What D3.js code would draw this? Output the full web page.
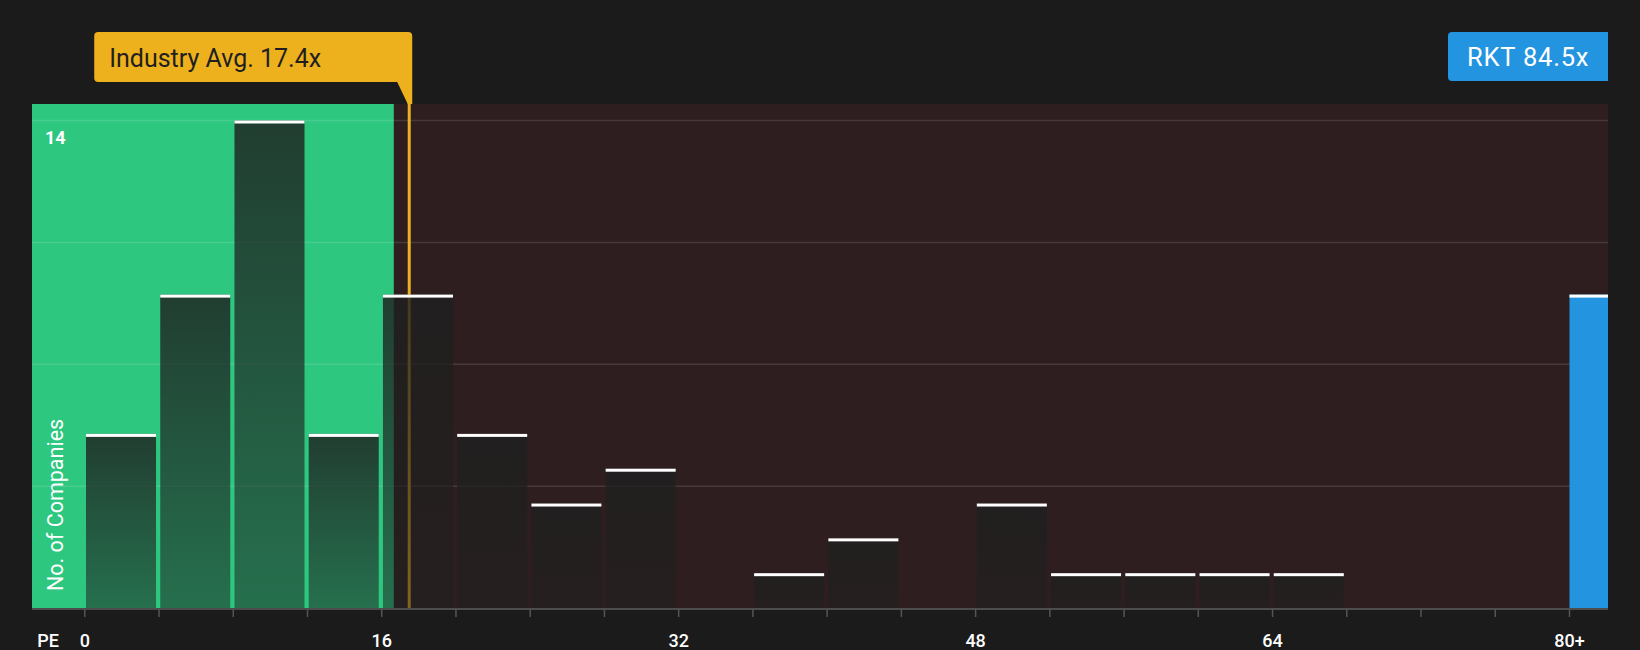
<!DOCTYPE html>
<html>
<head>
<meta charset="utf-8">
<script src="https://cdn.jsdelivr.net/npm/d3@7"></script>
<style>
  html, body { margin: 0; padding: 0; background: #1b1b1b; }
  svg { display: block; }
</style>
</head>
<body>
<svg id="chart" width="1640" height="650"></svg>
<script>
// ---------- data ----------
const binStarts = [0, 4, 8, 12, 16, 20, 24, 28, 32, 36, 40, 44, 48, 52, 56, 60, 64, 68, 72, 76];
const binCounts = [5, 9, 14, 5, 9, 5, 3, 4, 0, 1, 2, 0, 3, 1, 1, 1, 1, 0, 0, 0];
const binWidth = 4;
const overflowStart = 80;
const overflowCount = 9;           // companies in 80+ bin (incl. RKT)
const companyName = "RKT";
const companyPE = 84.5;
const industryAvg = 17.4;
const goodRangeEnd = 16.65;
const xTickValues = [0, 4, 8, 12, 16, 20, 24, 28, 32, 36, 40, 44, 48, 52, 56, 60, 64, 68, 72, 76, 80];
const xLabelValues = [0, 16, 32, 48, 64, 80];
const xLabelTexts = ["0", "16", "32", "48", "64", "80+"];
const gridValues = [3.5, 7, 10.5, 14];
const yLabelValues = [14];
const xAxisTitle = "PE";
const yAxisTitle = "No. of Companies";

// ---------- layout ----------
const W = 1640, H = 650;
const plotLeft = 32, plotRight = 1608, plotTop = 104, baseY = 608;
const font = "Roboto, 'Open Sans', sans-serif";

const svg = d3.select("#chart");
const x = d3.scaleLinear().domain([0, 80]).range([84.8, 1569.5]);
const y = d3.scaleLinear().domain([0, 14]).range([baseY, 120.5]);

const defs = svg.append("defs");
const grad = defs.append("linearGradient").attr("id", "barGrad")
  .attr("x1", 0).attr("y1", 0).attr("x2", 0).attr("y2", 1);
grad.append("stop").attr("offset", "0%").attr("stop-color", "#1e1f1f").attr("stop-opacity", 0.82);
grad.append("stop").attr("offset", "100%").attr("stop-color", "#1e1f1f").attr("stop-opacity", 0.52);

// background
svg.append("rect").attr("width", W).attr("height", H).attr("fill", "#1b1b1b");

// regions
svg.append("rect")
  .attr("x", plotLeft).attr("y", plotTop)
  .attr("width", plotRight - plotLeft).attr("height", baseY - plotTop)
  .attr("fill", "#2e1e1f");
svg.append("rect")
  .attr("x", plotLeft).attr("y", plotTop)
  .attr("width", x(goodRangeEnd) - plotLeft).attr("height", baseY - plotTop)
  .attr("fill", "#2ec780");

// gridlines
svg.append("g").selectAll("line").data(gridValues).join("line")
  .attr("x1", plotLeft).attr("x2", plotRight)
  .attr("y1", d => y(d)).attr("y2", d => y(d))
  .attr("stroke", "#ffffff").attr("stroke-opacity", 0.12).attr("stroke-width", 1.5);

// industry average line (under bars)
const lx = x(industryAvg) + 1.5;
const boxTop = 32, boxBottom = 82;
svg.append("line")
  .attr("x1", lx).attr("x2", lx).attr("y1", boxBottom).attr("y2", baseY)
  .attr("stroke", "#eeb11e").attr("stroke-width", 3);

// bars
const bins = binStarts.map((b, i) => ({ start: b, count: binCounts[i] }));
const barsG = svg.append("g");
barsG.selectAll("rect.bar").data(bins.filter(d => d.count > 0)).join("rect")
  .attr("class", "bar")
  .attr("x", d => x(d.start) + 1.2)
  .attr("width", d => x(d.start + binWidth) - x(d.start) - 4.2)
  .attr("y", d => y(d.count))
  .attr("height", d => baseY - y(d.count))
  .attr("fill", "url(#barGrad)");
barsG.selectAll("rect.top").data(bins.filter(d => d.count > 0)).join("rect")
  .attr("class", "top")
  .attr("x", d => x(d.start) + 1.2)
  .attr("width", d => x(d.start + binWidth) - x(d.start) - 4.2)
  .attr("y", d => y(d.count))
  .attr("height", 3)
  .attr("fill", "#ffffff");

// overflow (company) bar
svg.append("rect")
  .attr("x", x(overflowStart)).attr("y", y(overflowCount))
  .attr("width", plotRight - x(overflowStart)).attr("height", baseY - y(overflowCount))
  .attr("fill", "#2394df");
svg.append("rect")
  .attr("x", x(overflowStart)).attr("y", y(overflowCount))
  .attr("width", plotRight - x(overflowStart)).attr("height", 3)
  .attr("fill", "#ffffff");

// x axis
svg.append("line")
  .attr("x1", plotLeft).attr("x2", plotRight).attr("y1", baseY + 1).attr("y2", baseY + 1)
  .attr("stroke", "#4d4d4d").attr("stroke-width", 2);
svg.append("g").selectAll("line").data(xTickValues).join("line")
  .attr("x1", d => x(d)).attr("x2", d => x(d))
  .attr("y1", baseY + 1).attr("y2", baseY + 9)
  .attr("stroke", "#555555").attr("stroke-width", 1.5);
svg.append("g").selectAll("text").data(xLabelValues).join("text")
  .attr("x", d => x(d)).attr("y", 647)
  .attr("text-anchor", "middle")
  .attr("font-family", font).attr("font-size", 18).attr("font-weight", 500)
  .attr("fill", "#ffffff")
  .text((d, i) => xLabelTexts[i]);
svg.append("text")
  .attr("x", 48).attr("y", 647).attr("text-anchor", "middle")
  .attr("font-family", font).attr("font-size", 18).attr("font-weight", 500)
  .attr("fill", "#ffffff").text(xAxisTitle);

// y labels
svg.append("g").selectAll("text").data(yLabelValues).join("text")
  .attr("x", 45).attr("y", d => y(d) + 23.5)
  .attr("font-family", font).attr("font-size", 18).attr("font-weight", 700)
  .attr("fill", "#ffffff").text(d => d);
svg.append("text")
  .attr("transform", "translate(63,591) rotate(-90)")
  .attr("font-family", font).attr("font-size", 21.5)
  .attr("fill", "#ffffff").text(yAxisTitle);

// industry avg label box with pointer
const boxRight = lx + 3, boxLeft = lx - 315;
svg.append("path")
  .attr("d", `M${boxLeft + 4},${boxTop} H${boxRight - 4} Q${boxRight},${boxTop} ${boxRight},${boxTop + 4}
              V${plotTop} L${lx - 1.5},${plotTop} L${lx - 12},${boxBottom}
              H${boxLeft + 4} Q${boxLeft},${boxBottom} ${boxLeft},${boxBottom - 4}
              V${boxTop + 4} Q${boxLeft},${boxTop} ${boxLeft + 4},${boxTop} Z`)
  .attr("fill", "#eeb11e");
svg.append("text")
  .attr("x", boxLeft + 15).attr("y", 66.5)
  .attr("font-family", font).attr("font-size", 25)
  .attr("fill", "#1f1f1f")
  .text(`Industry Avg. ${industryAvg}x`);

// company label box
const cBoxLeft = 1448;
svg.append("path")
  .attr("d", `M${cBoxLeft + 4},${boxTop} H${plotRight} V${boxBottom - 1} H${cBoxLeft + 4}
              Q${cBoxLeft},${boxBottom - 1} ${cBoxLeft},${boxBottom - 5} V${boxTop + 4}
              Q${cBoxLeft},${boxTop} ${cBoxLeft + 4},${boxTop} Z`)
  .attr("fill", "#2394df");
svg.append("text")
  .attr("x", cBoxLeft + 19).attr("y", 66)
  .attr("font-family", font).attr("font-size", 25.5).attr("letter-spacing", 0.8)
  .attr("fill", "#ffffff")
  .text(`${companyName} ${companyPE}x`);
</script>
</body>
</html>
